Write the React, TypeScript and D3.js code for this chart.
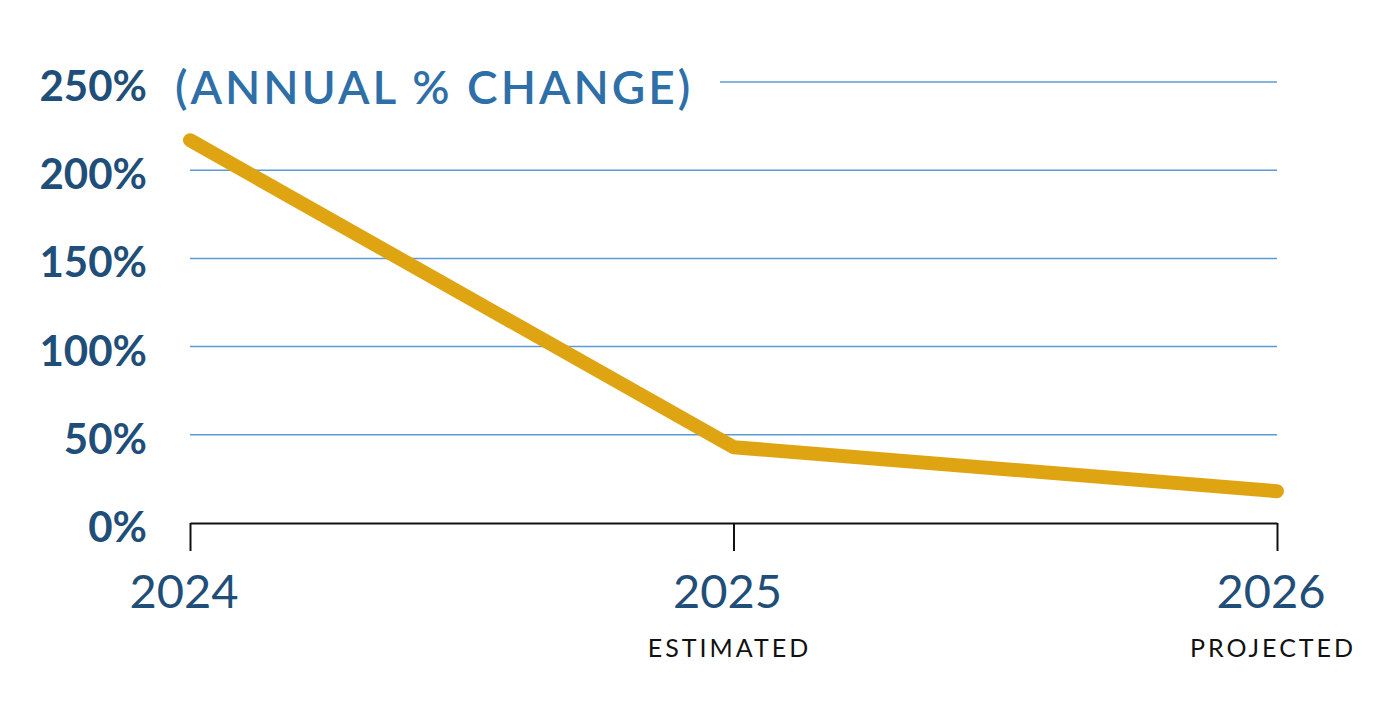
import React, { useRef, useEffect } from 'react';
import * as d3 from 'd3';

const years = ['2024', '2025', '2026'];
const changes = [217, 43, 18];
const subLabels = ['', 'ESTIMATED', 'PROJECTED'];
const yTicks = [0, 50, 100, 150, 200, 250];
const title = '(ANNUAL % CHANGE)';

const width = 1386;
const height = 719;

export default function App() {
  const svgRef = useRef<SVGSVGElement>(null);

  useEffect(() => {
    if (!svgRef.current) return;
    const svg = d3.select(svgRef.current);
    svg.selectAll('*').remove();

    const font = 'Lato, "Noto Sans", sans-serif';
    const x = d3.scalePoint<string>().domain(years).range([190, 1277]);
    const y = d3.scaleLinear().domain([0, 250]).range([523, 82]);

    // gridlines
    svg.append('g')
      .selectAll('line')
      .data(yTicks.filter(t => t > 0))
      .join('line')
      .attr('x1', d => (d === 250 ? 720 : 190))
      .attr('x2', 1277)
      .attr('y1', d => y(d))
      .attr('y2', d => y(d))
      .attr('stroke', '#5b9bd5')
      .attr('stroke-width', 1.5);

    // y labels
    svg.append('g')
      .selectAll('text')
      .data(yTicks)
      .join('text')
      .attr('x', 147)
      .attr('y', d => y(d) + 19)
      .attr('text-anchor', 'end')
      .attr('font-family', font)
      .attr('font-weight', 700)
      .attr('font-size', 42)
      .attr('fill', '#1f4e79')
      .text(d => `${d}%`);

    svg.append('text')
      .attr('x', 175)
      .attr('y', 104)
      .attr('font-family', font)
      .attr('font-weight', 600)
      .attr('font-size', 46)
      .attr('letter-spacing', 3)
      .attr('fill', '#2e6fa8')
      .text(title);

    // x axis
    const xAxis = d3.axisBottom(x).tickSize(28).tickSizeOuter(0).tickFormat(() => '');
    const ax = svg.append('g').attr('transform', `translate(0,${y(0)})`).call(xAxis);
    ax.select('.domain').attr('stroke', '#111').attr('stroke-width', 2);
    ax.selectAll('.tick line').attr('stroke', '#111').attr('stroke-width', 2);

    svg.append('g')
      .selectAll('text')
      .data(years)
      .join('text')
      .attr('x', d => x(d)! - 6)
      .attr('y', 608)
      .attr('text-anchor', 'middle')
      .attr('font-family', font)
      .attr('font-size', 47)
      .attr('fill', '#1f4e79')
      .text(d => d);

    svg.append('g')
      .selectAll('text')
      .data(years)
      .join('text')
      .attr('x', d => x(d)! - 4)
      .attr('y', 657)
      .attr('text-anchor', 'middle')
      .attr('font-family', font)
      .attr('font-size', 25)
      .attr('letter-spacing', 3)
      .attr('fill', '#111')
      .text((d, i) => subLabels[i]);

    // line
    const line = d3.line<number>()
      .x((d, i) => x(years[i])!)
      .y(d => y(d));
    svg.append('path')
      .datum(changes)
      .attr('d', line)
      .attr('fill', 'none')
      .attr('stroke', '#dfa412')
      .attr('stroke-width', 14)
      .attr('stroke-linecap', 'round')
      .attr('stroke-linejoin', 'round');
  }, []);

  return (
    <div style={{ position: 'absolute', left: 0, top: 0 }}>
      <svg ref={svgRef} width={width} height={height} style={{ display: 'block', background: '#fff' }} />
    </div>
  );
}
